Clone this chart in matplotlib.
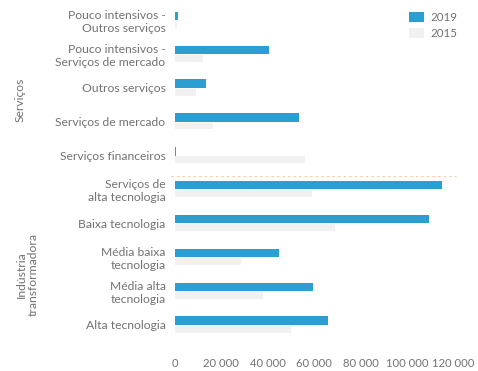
import matplotlib.pyplot as plt

categorias = [
    "Pouco intensivos -\nOutros serviços",
    "Pouco intensivos -\nServiços de mercado",
    "Outros serviços",
    "Serviços de mercado",
    "Serviços financeiros",
    "Serviços de\nalta tecnologia",
    "Baixa tecnologia",
    "Média baixa\ntecnologia",
    "Média alta\ntecnologia",
    "Alta tecnologia",
]
valores_2019 = [1500, 40700, 13600, 53500, 800, 115000, 109400, 45000, 59400, 66000]
valores_2015 = [1000, 12000, 9400, 16600, 56000, 59000, 69000, 28500, 38000, 50000]
xticks = [0, 20000, 40000, 60000, 80000, 100000, 120000]

plt.rcParams['font.family'] = ['Lato', 'DejaVu Sans']
cor_texto = "#727272"
fs = 8.7

fig = plt.figure(figsize=(4.78, 3.71), dpi=100)
ax = fig.add_axes([0.358, 0.07, 0.62, 0.917])

pos = list(range(len(categorias)))
ax.barh([p - 0.12 for p in pos], valores_2019, height=0.25, color="#2b9fd1", label="2019")
ax.barh([p + 0.13 for p in pos], valores_2015, height=0.2, color="#f1f1f1", label="2015")

# separador entre serviços e indústria
ax.axhline(4.62, xmin=0, xmax=0.96, color="#f3c9a8", ls=(0, (2, 3)), lw=0.8)

ax.set_yticks(pos)
ax.set_yticklabels(categorias, fontsize=fs, color=cor_texto, linespacing=1.2)
ax.set_xticks(xticks)
ax.set_xticklabels([f"{v:,}".replace(",", " ") for v in xticks], fontsize=8.1,
                   color=cor_texto)
ax.set_xlim(-1500, 126000)
ax.set_ylim(9.6, -0.45)
ax.tick_params(length=0)
ax.tick_params(axis="x", pad=9)
ax.tick_params(axis="y", pad=4)
for s in ax.spines.values():
    s.set_visible(False)

leg = ax.legend(loc="upper right", frameon=False, fontsize=8.3, handlelength=1.3,
                handleheight=0.9, labelspacing=0.45, handletextpad=0.5,
                bbox_to_anchor=(1.0, 1.01))
for t in leg.get_texts():
    t.set_color(cor_texto)

fig.text(0.042, 0.73, "Serviços", rotation=90, ha="center", va="center",
         fontsize=fs, color=cor_texto)
fig.text(0.058, 0.26, "Indústria\ntransformadora", rotation=90, ha="center",
         va="center", fontsize=fs, color=cor_texto, linespacing=1.1)

fig.savefig("out.png", dpi=100)
